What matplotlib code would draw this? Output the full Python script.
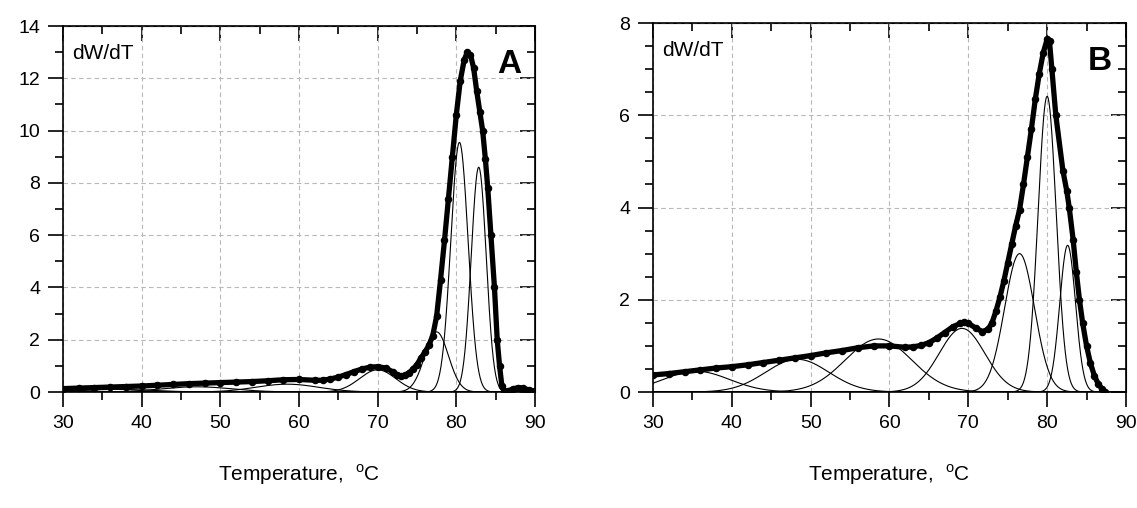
import numpy as np
import matplotlib
matplotlib.use("Agg")
import matplotlib.pyplot as plt
from matplotlib.ticker import MultipleLocator

plt.rcParams['font.family'] = ['Liberation Sans', 'DejaVu Sans']
plt.rcParams['mathtext.fontset'] = 'custom'
plt.rcParams['mathtext.rm'] = 'Liberation Sans'

# panel A: measured dW/dT curve (thick dotted line)
a_temp = [30, 32, 34, 36, 38, 40, 42, 44, 46, 48, 50, 52, 54, 56, 58, 60, 62,
          63, 64, 65, 66, 67, 68, 69, 70, 71, 72, 72.5, 73, 73.5, 74, 74.5,
          75, 75.5, 76, 76.5, 77, 77.5, 78, 78.5, 79, 79.5, 80, 80.5, 81,
          81.4, 81.8, 82.2, 82.6, 83, 83.35, 83.7, 84, 84.4, 84.85, 85.2,
          85.5, 85.8, 86.1, 86.6, 87.2, 87.9, 88.5, 89.2, 90]
a_dwdt = [0.13, 0.15, 0.17, 0.19, 0.21, 0.23, 0.26, 0.29, 0.32, 0.34, 0.36,
          0.38, 0.40, 0.43, 0.47, 0.48, 0.45, 0.45, 0.50, 0.57, 0.67, 0.78,
          0.88, 0.95, 0.97, 0.92, 0.76, 0.66, 0.61, 0.64, 0.74, 0.88, 1.05,
          1.3, 1.52, 1.78, 2.15, 2.9, 4.3, 5.8, 7.4, 9.0, 10.6, 11.9, 12.7,
          13.0, 12.9, 12.4, 11.5, 10.7, 10.0, 8.9, 7.8, 6.0, 4.0, 2.0, 1.0,
          0.22, 0.03, 0.04, 0.12, 0.17, 0.15, 0.08, 0.04]
# panel A: fitted component peaks
a_peak_center = [37.0, 47.0, 58.5, 70.0, 77.5, 80.4, 82.85, 88.0]
a_peak_height = [0.10, 0.20, 0.30, 0.85, 2.3, 9.55, 8.6, 0.15]
a_peak_width = [4.5, 4.5, 4.0, 2.3, 1.5, 1.1, 0.95, 0.7]

# panel B: measured dW/dT curve
b_temp = [30, 32, 34, 36, 38, 40, 42, 44, 46, 48, 50, 52, 54, 56, 58, 60, 62,
          63, 64, 65, 66, 67, 68, 69, 69.5, 70, 71, 71.8, 72.5, 73, 73.5, 74,
          74.5, 75, 75.5, 76, 76.5, 77, 77.5, 78, 78.5, 79, 79.5, 80, 80.3,
          80.6, 81.1, 82, 82.5, 82.8, 83.3, 83.7, 84.1, 84.5, 85, 85.5, 86,
          86.5, 87, 87.4]
b_dwdt = [0.37, 0.40, 0.44, 0.48, 0.52, 0.55, 0.59, 0.64, 0.69, 0.74, 0.79,
          0.85, 0.90, 0.96, 1.00, 1.00, 0.97, 0.98, 1.01, 1.07, 1.17, 1.29,
          1.41, 1.49, 1.51, 1.49, 1.38, 1.31, 1.36, 1.5, 1.75, 2.05, 2.4,
          2.8, 3.2, 3.6, 3.95, 4.5, 5.1, 5.7, 6.35, 6.9, 7.35, 7.65, 7.6,
          7.0, 6.0, 4.8, 4.35, 4.0, 3.3, 2.6, 2.0, 1.5, 1.0, 0.62, 0.35,
          0.17, 0.06, 0.0]
b_peak_center = [35.5, 48.3, 58.6, 69.2, 76.5, 80.0, 82.6]
b_peak_height = [0.45, 0.71, 1.15, 1.38, 3.0, 6.41, 3.18]
b_peak_width = [4.2, 4.0, 4.2, 2.9, 1.9, 1.15, 1.0]


def draw_panel(ax, temp, dwdt, centers, heights, widths, ymax, yminor, tag):
    t = np.linspace(30, 90, 1201)
    for c, h, w in zip(centers, heights, widths):
        ax.plot(t, h * np.exp(-(t - c) ** 2 / (2 * w ** 2)),
                color='black', lw=0.8)
    ax.plot(temp, dwdt, color='black', lw=3.8, marker='o', ms=4.4,
            solid_joinstyle='round', solid_capstyle='round')

    ax.set_xlim(30, 90)
    ax.set_ylim(0, ymax)
    ax.xaxis.set_major_locator(MultipleLocator(10))
    ax.xaxis.set_minor_locator(MultipleLocator(5))
    ax.yaxis.set_major_locator(MultipleLocator(2))
    ax.yaxis.set_minor_locator(MultipleLocator(yminor))
    ax.grid(which='major', linestyle=(0, (4, 3)), color='#b8b8b8', lw=0.8)
    for s in ax.spines.values():
        s.set_linewidth(1.2)
    ax.tick_params(which='major', direction='out', length=10.5, width=1.2,
                   labelsize=14, pad=6, top=False, right=False)
    ax.tick_params(which='minor', direction='out', length=6, width=1.2,
                   top=False, right=False)

    # inward ticks on top and right
    top = ax.secondary_xaxis('top')
    top.xaxis.set_major_locator(MultipleLocator(10))
    top.xaxis.set_minor_locator(MultipleLocator(5))
    top.tick_params(which='major', direction='in', length=10.5, width=1.2,
                    labeltop=False)
    top.tick_params(which='minor', direction='in', length=6, width=1.2)
    right = ax.secondary_yaxis('right')
    right.yaxis.set_major_locator(MultipleLocator(2))
    right.yaxis.set_minor_locator(MultipleLocator(yminor))
    right.tick_params(which='major', direction='in', length=10.5, width=1.2,
                      labelright=False)
    right.tick_params(which='minor', direction='in', length=6, width=1.2)

    ax.text(0.02, 0.925, 'dW/dT', transform=ax.transAxes, fontsize=15,
            va='center', ha='left')
    ax.text(0.945, 0.895, tag, transform=ax.transAxes, fontsize=24,
            fontweight='bold', va='center', ha='center')
    ax.set_xlabel(r'Temperature,  $^{\mathrm{o}}$C', fontsize=15,
                  labelpad=22)


fig = plt.figure(figsize=(11.37, 5.08), dpi=100)
ax1 = fig.add_axes([0.0554, 0.2283, 0.4151, 0.7205])
ax2 = fig.add_axes([0.5743, 0.2283, 0.4160, 0.7264])

draw_panel(ax1, a_temp, a_dwdt, a_peak_center, a_peak_height, a_peak_width,
           14, 1, 'A')
draw_panel(ax2, b_temp, b_dwdt, b_peak_center, b_peak_height, b_peak_width,
           8, 0.5, 'B')

fig.savefig('out.png', dpi=100)
